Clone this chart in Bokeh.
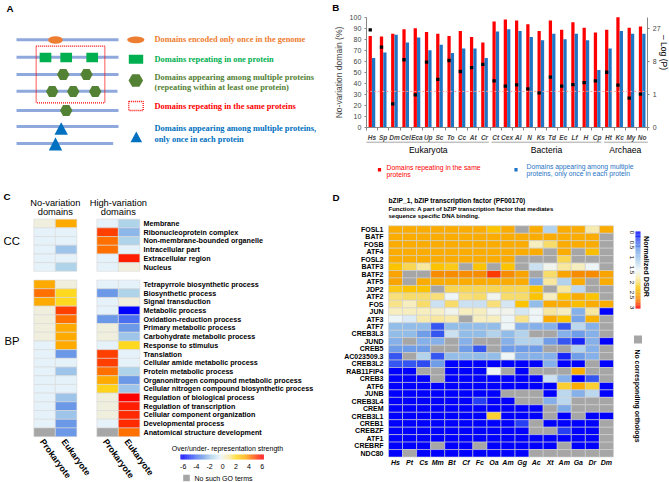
import numpy as np
from bokeh.plotting import figure
from bokeh.models import (Range1d, LinearAxis, FixedTicker,
                          LinearColorMapper, ColumnDataSource)
from bokeh.layouts import column, row
from bokeh.core.properties import value
from bokeh.embed import file_html
from bokeh.resources import INLINE

NaN = float("nan")
N = None

# ===================== Panel B data =====================
species = ["Hs", "Sp", "Dm", "Cel", "Eca", "Up", "Sc", "To", "Cc", "At", "Cr",
           "Ct", "Cex", "Al", "N", "Ks", "Td", "Ec", "Lf", "H", "Cp",
           "Ht", "Kc", "My", "No"]
kingdoms = ["Eukaryota"] * 11 + ["Bacteria"] * 10 + ["Archaea"] * 4
pct_same_proteins = [83, 82.5, 85, 89, 90, 86.5, 85, 83, 87.5, 82, 77,
                     96, 98, 97, 93.5, 87.5, 97, 88.5, 95.5, 90.5, 86,
                     88.5, 100, 90.5, 91.5]
pct_once_each = [63, 68, 84, 77, 81.5, 70, 75, 67.5, 71.5, 71.5, 63,
                 87, 89, 87.5, 82, 79, 85, 80, 85, 79, 52,
                 71.5, 87.5, 85, 85]
neg_log_p = [26.2, 14.6, 0.36, 8.7, 0.96, 7.8, 3.1, 8.4, 4.9, 6.0, 7.0,
             2.8, 1.96, 2.16, 1.6, 1.15, 3.55, 1.96, 2.2, 2.5, 2.8,
             4.7, 2.1, 0.69, 1.02]
p_cutoff = 0.05
pct_ticks = list(range(0, 101, 10))
neglogp_ticks = [0, 1, 8, 27]

# ===================== Panel C data =====================
cc_terms = ["Membrane", "Ribonucleoprotein complex", "Non-membrane-bounded organelle",
            "Intracellular part", "Extracellular region", "Nucleus"]
bp_terms = ["Tetrapyrrole biosynthetic process", "Biosynthetic process", "Signal transduction",
            "Metabolic process", "Oxidation-reduction process", "Primary metabolic process",
            "Carbohydrate metabolic process", "Response to stimulus", "Translation",
            "Cellular amide metabolic process", "Protein metabolic process",
            "Organonitrogen compound metabolic process",
            "Cellular nitrogen compound biosynthetic process",
            "Regulation of biological process", "Regulation of transcription",
            "Cellular component organization", "Developmental process",
            "Anatomical structure development"]
cc_novar_prok = [0.0, -0.4, -0.4, -0.4, -0.4, -0.4]
cc_novar_euk = [3.5, -0.4, -0.4, -2.0, -0.4, -1.6]
cc_high_prok = [-0.4, 5.0, 4.3, 4.3, -0.4, -0.4]
cc_high_euk = [-1.6, -2.3, -1.6, -0.4, 5.5, 0.0]
bp_novar_prok = [3.5, 4.3, 3.5, 0, 0, 0, 0, -0.4, -0.4, -0.4, -0.4, -0.4, -0.4,
                 -0.4, -0.4, -0.4, -0.4, NaN]
bp_novar_euk = [0, 2.0, 2.0, 5.0, 4.3, 3.5, 3.5, 3.5, -3.0, -0.4, -2.0, -0.4, -0.4,
                -2.0, -3.0, -2.0, -3.0, -3.0]
bp_high_prok = [-0.4, -3.0, -0.4, -0.4, -3.0, 0, 0, -0.4, 5.0, 5.0, 4.3, 3.5, 2.2,
                0, 0, 0, -0.4, NaN]
bp_high_euk = [-0.4, -1.6, 0, -6.0, -4.0, -3.0, -2.0, 2.0, -0.4, -0.4, -1.6, -3.0, -2.0,
               6.0, 5.5, 5.3, 5.3, 4.3]
c_col_names = ["Prokaryote", "Eukaryote", "Prokaryote", "Eukaryote"]
c_group_names = [["No-variation", "domains"], ["High-variation", "domains"]]
c_bar_ticks = [-6, -4, -2, 0, 2, 4, 6]

# ===================== Panel D data =====================
d_genes = ["FOSL1", "BATF", "FOSB", "ATF4", "FOSL2", "BATF3", "BATF2", "ATF5", "JDP2",
           "ATF2", "FOS", "JUN", "ATF3", "ATF7", "CREB3L3", "JUND", "CREB5", "AC023509.3",
           "CREB3L2", "RAB11FIP4", "CREB3", "ATF6", "JUNB", "CREB3L4", "CREM", "CREB3L1",
           "CREB1", "CREBZF", "ATF1", "CREBRF", "NDC80"]
d_species = ["Hs", "Pt", "Cs", "Mm", "Bt", "Cf", "Fc", "Oa", "Am", "Gg", "Ac", "Xt",
             "Am", "Ga", "Dr", "Dm"]
dsdr = [
    [2.4, 2.4, 2.4, 2.4, 2.4, 2.4, 2.4, 2.2, 2.4, N, 2.4, 1.15, 2.4, 2.4, 1.8, 2.4],
    [2.4, 2.4, 2.4, 2.4, 2.4, 2.4, 2.4, 2.4, 2.4, 2.4, 2.4, 2.4, 2.4, 2.4, 2.4, N],
    [2.4, 2.4, 2.4, 2.4, 2.4, 2.4, 2.4, 2.4, 2.4, 2.4, 1.75, 2.0, 2.4, 2.4, 2.4, N],
    [2.4, 2.4, 2.4, 2.4, 2.4, 2.4, 2.4, 2.4, 2.4, 2.4, 2.4, N, 2.4, N, 2.25, N],
    [2.4, 2.4, 2.4, 2.4, 2.4, 2.4, 2.4, 2.4, 2.4, N, N, N, 2.05, N, N, N],
    [2.2, 2.05, 1.85, 2.2, 2.15, N, 2.2, N, 2.2, N, 1.3, 1.55, 1.85, 1.75, 1.5, N],
    [2.45, N, N, 2.6, 2.6, 2.6, 2.6, 2.85, 2.6, 2.45, N, 2.0, 2.45, 2.6, 2.6, 2.45],
    [2.45, N, 2.4, 2.4, 2.4, 2.4, 2.4, 2.4, 2.4, 2.4, 0.8, 1.85, 1.15, 2.4, N, 2.4],
    [2.15, 2.2, 2.2, N, 2.05, 2.05, 2.05, 2.05, 2.05, 2.05, 2.2, N, 1.85, 1.2, N, N],
    [1.95, 2.0, 2.0, 1.95, 1.5, 1.95, 2.0, 1.55, 2.0, 2.0, 2.2, 1.75, 2.2, 2.4, 2.2, N],
    [1.9, 1.75, 2.0, 1.3, 2.0, 1.3, 1.3, 1.95, 1.35, 2.2, 0.95, 2.4, 2.4, 2.25, 2.4, 2.4],
    [1.75, 1.75, 1.75, 1.7, 1.55, 1.75, 1.75, 1.55, 1.55, 1.35, 1.5, 1.85, 1.75, 0.85, 1.85, 0.0],
    [1.5, 1.4, 1.8, 1.85, 1.8, N, 1.75, 1.75, 1.5, 1.9, 1.5, 2.4, 2.2, 0.75, 2.35, N],
    [0.95, 0.95, 0.95, 0.35, 0.95, 0.95, 0.95, 0.95, 1.5, 0.85, 0.85, 0.85, 0.35, 1.2, 0.85, N],
    [0.95, 0.95, 0.7, 0.35, 1.3, 0.95, 0.95, 1.15, 0.95, 1.15, N, N, 0.85, 0.7, 0.85, N],
    [0.85, N, 0.85, 0.85, N, 0.85, N, N, 0.85, 1.15, 1.15, 0.7, 0.35, 0.15, 0.85, 0.0],
    [0.7, 0.7, 0.7, N, N, 0.7, 0.35, N, 0.7, 0.7, 0.7, N, N, 1.15, 0.85, N],
    [0.35, N, 1.15, 0.35, 0.95, 0.95, 0.95, 0.95, 1.5, 0.85, 0.85, 0.85, 0.15, 0.7, 0.85, N],
    [0.35, 0.35, 0.3, 0.7, 0, 0, 0, 0, 0, 0, 0, 0.85, 0, 0, N, 0],
    [0, 0, N, N, 0, 0, 0, 1.5, N, 0, N, N, N, 2.4, N, N],
    [0, 0, 0, N, 0, 0, 0, 0, 0, 0, 0, 1.3, 0.85, 0, 0.35, N],
    [0, 0, 0, 0, 0, 0, 0, 0, 0, 0, 0, 0, 2.1, 2.4, 2.1, 0],
    [0, 0, 0, 0, 0, 0, 0, 0, N, N, N, 0, 1.2, 0.85, 1.2, 0],
    [0, 0, 0, 0, 0, 0, 0.25, 0, 0, N, N, 0.85, 1.2, N, N, N],
    [0, 0, 0, 0, 0, 0, 0, 0, 0, 0, 0, N, 0.8, N, N, N],
    [0, 0, 0, 0, 0, 0, 0, 2.1, 0, 0, 0, N, 0, N, 0, 0],
    [0, 0, 0, 0, 0, 0, 0, 0, 0, 0.25, N, 0, 0, 0, 0, N],
    [0, 0, 0, 0, 0, 0, 0, 0, 0, 0, N, N, 0.25, 0, 0, N],
    [0, 0, 0, 0, 0, 0, 0, 0, 0, 0, 0, 0, 0, 0, 0, N],
    [0, 0, 0, N, 0, 0, N, 0, 0, 0, 0, 0, N, 0, 0, N],
    [0, N, 0, 0, 0, 0, 0, 0, 0, 0, N, N, N, N, N, N],
]
d_bar_ticks = [0, 0.5, 1, 1.5, 2, 2.5, 3]

# ===================== helpers =====================
SANS = "Liberation Sans"
SERIF = "Liberation Serif"
GRAY = "#a6a6a6"


def ramp(stops, n=256):
    vals = [s for s, _ in stops]
    rgbs = [tuple(int(c[i:i + 2], 16) for i in (1, 3, 5)) for _, c in stops]
    out = []
    for t in np.linspace(vals[0], vals[-1], n):
        k = len(vals) - 2
        for i in range(len(vals) - 1):
            if vals[i] <= t < vals[i + 1]:
                k = i
                break
        f = (t - vals[k]) / (vals[k + 1] - vals[k])
        rgb = [int(round(a + (b - a) * f)) for a, b in zip(rgbs[k], rgbs[k + 1])]
        out.append("#%02x%02x%02x" % tuple(rgb))
    return out


mapC = LinearColorMapper(palette=ramp([
    (-6, "#0000ff"), (-4, "#4a70f0"), (-3, "#6a98e8"), (-2, "#9ec4ea"), (-1.6, "#b0d4e8"),
    (-0.4, "#e6f2fa"), (0, "#f0efe0"), (1, "#f8e8a0"), (2, "#ffd820"), (3.5, "#ffaa00"),
    (4.3, "#ff7000"), (5, "#ff4000"), (6, "#ff0000")]), low=-6, high=6, nan_color=GRAY)
mapD = LinearColorMapper(palette=ramp([
    (0.0, "#0000ff"), (0.3, "#2f4df2"), (0.65, "#6a98e8"), (0.95, "#93bde9"), (1.25, "#c3ddef"),
    (1.5, "#eef5f8"), (1.75, "#f7eec0"), (2.0, "#f8dc6a"), (2.2, "#fcc400"), (2.45, "#f9a602"),
    (2.7, "#f77a00"), (3.0, "#ff0000")]), low=0, high=3, nan_color=GRAY)


def txt(p, x, y, text, size, color="black", align="left", baseline="middle",
        style="normal", angle=0.0, font=SANS, **kw):
    p.text(x=x, y=y, text=text, text_font=value(font), text_font_size=value(size),
           text_color=color, text_align=align, text_baseline=baseline,
           text_font_style=value(style), angle=angle, **kw)


def panel(w, h, xr, yr, axes=False):
    kw = {} if axes else dict(x_axis_type=None, y_axis_type=None)
    p = figure(width=w, height=h, x_range=Range1d(*xr), y_range=Range1d(*yr),
               output_backend="svg", toolbar_location=None, min_border=0, **kw)
    p.outline_line_color = None
    return p


WL, WR = 330, 339
HT, HB = 190, 292

# ===================== Panel A (schematic) =====================
pA = panel(WL, HT, (0, 330), (190, 0))
txt(pA, [6], [2.5], ["A"], "9.8px", baseline="top", style="bold")
line_y = [39.3, 56.7, 74, 90.7, 110, 126, 143]
line_end = [118, 118, 118, 117, 118, 118, 112.7]
pA.segment(x0=[16] * 7, y0=line_y, x1=line_end, y1=line_y, line_color="#8fa9dc", line_width=3)
pA.rect(x=[70], y=[74], width=[68.6], height=[56.6], fill_color=None, line_color="#ff0000",
        line_dash="1 1", line_width=1.3)
pA.ellipse(x=[55, 135.3], y=[39.5, 39.3], width=[14.7, 17.3], height=[7.7, 6.7],
           fill_color="#ed7d31", line_color=None)
pA.rect(x=[45, 65.7, 91.7, 135.5], y=[57, 57, 57, 58.8], width=[11.7, 11.7, 11.7, 14.4],
        height=[9.3, 9.3, 9.3, 9], fill_color="#00b050", line_color=None)
pA.scatter(x=[62.7, 86, 51.7, 72.7, 94.7, 65.7], y=[74, 74, 91, 91, 91, 110], marker="hex",
           size=12.5, fill_color="#548235", line_color=None)
pA.scatter(x=[135.3], y=[80], marker="hex", size=14.5, fill_color="#548235", line_color=None)
pA.patches(xs=[[54, 60.7, 67.4], [48.3, 55, 61.7], [130, 135.8, 141.6]],
           ys=[[134.3, 121.7, 134.3], [150, 136.7, 150], [141.7, 131, 141.7]],
           fill_color="#0070c0", line_color=None)
pA.rect(x=[135.5], y=[105.5], width=[14.4], height=[9], fill_color=None, line_color="#ff0000",
        line_dash="1 1", line_width=1.3)
a_texts = ["Domains encoded only once in the genome", "Domains repeating in one protein",
           "Domains appearing among multiple proteins", "(repeating within at least one protein)",
           "Domains repeating in the same proteins", "Domains appearing among multiple proteins,",
           "only once in each protein"]
a_ys = [39.3, 58.7, 76.7, 87, 106, 128.3, 139.3]
a_cols = ["#ed7d31", "#00b050", "#548235", "#548235", "#ff0000", "#0070c0", "#0070c0"]
txt(pA, [154] * 7, a_ys, a_texts, "8.4px", color=a_cols, style="bold", font=SERIF)

# ===================== Panel B (bars) =====================
B_L, B_R, B_T, B_B = 365.8, 647.3, 16.7, 126.7
ncat = len(species)
cat_w = (B_R - B_L) / ncat
pct_px = (B_B - B_T) / 100.0
cube_px = (B_B - 28.3) / 3.0


def bx(px):
    return (px - B_L) / cat_w - 0.5


def by(py):
    return (B_B - py) / pct_px


def bc(py):
    return (B_B - py) / cube_px


pB = panel(WR, HT, (bx(330), bx(669)), (by(190), by(0)), axes=True)
pB.xgrid.visible = False
pB.ygrid.visible = False
pB.extra_y_ranges = {"nlp": Range1d(bc(190), bc(0))}

idx = np.arange(ncat)
pB.vbar(x=idx - 0.15, top=pct_same_proteins, width=0.29, fill_color="#ff0000", line_color=None)
pB.vbar(x=idx + 0.15, top=pct_once_each, width=0.29, fill_color="#1f74c4", line_color=None)
cut = float(np.cbrt(-np.log10(p_cutoff)))
pB.segment(x0=[-0.5], x1=[ncat - 0.5], y0=[cut], y1=[cut], y_range_name="nlp",
           line_color="#ff9a9a", line_dash="2 2", line_width=1)
pB.scatter(x=idx - 0.15, y=np.cbrt(neg_log_p), y_range_name="nlp", marker="square",
           size=3.3, fill_color="black", line_color=None)

xa = pB.xaxis[0]
xa.fixed_location = 0
xa.bounds = (-0.5, ncat - 0.5)
xa.ticker = FixedTicker(ticks=list(range(ncat)), minor_ticks=[i - 0.5 for i in range(ncat + 1)])
xa.major_label_overrides = {i: s for i, s in enumerate(species)}
xa.major_tick_line_color = None
xa.major_tick_out = 0
xa.major_tick_in = 0
xa.minor_tick_line_color = "#868686"
xa.minor_tick_out = 3
xa.minor_tick_in = 0
xa.axis_line_color = "#868686"
xa.major_label_text_font = SANS
xa.major_label_text_font_size = "6.5px"
xa.major_label_text_font_style = "bold italic"
xa.major_label_standoff = 4

yl = pB.yaxis[0]
yl.fixed_location = -0.5
yl.bounds = (0, 100)
yl.ticker = FixedTicker(ticks=pct_ticks)
yl.axis_label = "No-variation domain (%)"
yl.axis_label_text_font = SANS
yl.axis_label_text_font_size = "8.5px"
yl.axis_label_text_font_style = "normal"
yl.axis_label_standoff = 3
yr = LinearAxis(y_range_name="nlp", fixed_location=ncat - 0.5,
                ticker=FixedTicker(ticks=[float(np.cbrt(v)) for v in neglogp_ticks]),
                major_label_overrides={int(round(np.cbrt(v))): str(v) for v in neglogp_ticks})
pB.add_layout(yr, "right")
for ax in (yl, yr):
    ax.axis_line_color = "#868686"
    ax.major_tick_line_color = "#868686"
    ax.major_tick_out = 2
    ax.major_tick_in = 0
    ax.minor_tick_line_color = None
    ax.major_label_text_font = SANS
    ax.major_label_text_font_size = "7px"
    ax.major_label_standoff = 3
yr.bounds = (0, float(bc(B_T)))

txt(pB, [bx(331.7)], [by(1)], ["B"], "9.8px", baseline="top", style="bold")
txt(pB, [bx(663.5)], [by(52)], ["\u2013 Log (P)"], "8.5px", align="center", angle=-np.pi / 2)

groups = []
for i, k in enumerate(kingdoms):
    if not groups or groups[-1][0] != k:
        groups.append([k, i, i])
    else:
        groups[-1][2] = i
gx0, gx1, gxc, gnames = [], [], [], []
for gi, (k, i0, i1) in enumerate(groups):
    gx0.append(i0 - 0.5 + (0.0 if gi == 0 else 0.12))
    gx1.append(i1 + 0.5 - (0.0 if gi == len(groups) - 1 else 0.12))
    gxc.append((i0 + i1) / 2.0)
    gnames.append(k)
pB.segment(x0=gx0, x1=gx1, y0=[by(141.7)] * len(gx0), y1=[by(141.7)] * len(gx0),
           line_color="#a6a6a6", line_width=1)
txt(pB, gxc, [by(149.3)] * len(gxc), gnames, "8.6px", align="center")

pB.rect(x=[bx(379), bx(515.5)], y=[by(169.3), by(169.2)], width=[3.2 / cat_w] * 2,
        height=[3.6 / pct_px] * 2, fill_color=["#ff0000", "#1f74c4"], line_color=None)
txt(pB, [bx(386)] * 2, [by(166.7), by(174)], ["Domains repeating in the same", "proteins"],
    "6.8px", color="#ff0000")
txt(pB, [bx(526)] * 2, [by(165.7), by(172.7)],
    ["Domains appearing among multiple", "proteins, only once in each protein"],
    "6.8px", color="#1f74c4")

# ===================== Panel C (GO heatmap) =====================
C_X0, C_W, C_Y0, C_H = 44.1, 21.5, 223.0, 8.7


def c_x(px):
    return (px - C_X0) / C_W


def c_y(py):
    return (py - C_Y0) / C_H


pC = panel(WL, HB, (c_x(0), c_x(330)), (c_y(482), c_y(190)))
group_gap = 0.93
col_x = [0.0, 1.0, 2.0 + group_gap, 3.0 + group_gap]
cc_rows = list(range(len(cc_terms)))
bp_rows = [len(cc_terms) + 1 + k for k in range(len(bp_terms))]
c_cols = [cc_novar_prok + bp_novar_prok, cc_novar_euk + bp_novar_euk,
          cc_high_prok + bp_high_prok, cc_high_euk + bp_high_euk]
cx, cy, cv = [], [], []
for j, vals in enumerate(c_cols):
    for r, v in zip(cc_rows + bp_rows, vals):
        cx.append(col_x[j])
        cy.append(r)
        cv.append(v)
pC.rect(x="x", y="y", width=1, height=1, source=ColumnDataSource(dict(x=cx, y=cy, v=cv)),
        fill_color={"field": "v", "transform": mapC}, line_color="#d9d9d9", line_width=0.6)
label_x = col_x[-1] + 0.5 + 0.17
txt(pC, [label_x] * len(cc_terms), cc_rows, cc_terms, "7.2px", style="bold")
txt(pC, [label_x] * len(bp_terms), bp_rows, bp_terms, "7.2px", style="bold")
txt(pC, [c_x(3)], [c_y(190.5)], ["C"], "9.8px", baseline="top", style="bold")
txt(pC, [c_x(3), c_x(4)], [c_y(240), c_y(340.3)], ["CC", "BP"], "11.3px")
for g, names in enumerate(c_group_names):
    gx = (col_x[2 * g] + col_x[2 * g + 1]) / 2.0
    txt(pC, [gx, gx], [c_y(202.3), c_y(211.8)], names, "9.3px", align="center")
txt(pC, [x - 0.12 for x in col_x], [c_y(439.5)] * 4, c_col_names, "8.8px", style="bold",
    angle=-np.deg2rad(54))
# colour bar
cb_px = np.linspace(180, 263.3, 121)
cb_mid = (cb_px[:-1] + cb_px[1:]) / 2.0
cb_val = -6 + (cb_mid - 182.7) / 6.58
pC.rect(x="x", y="y", width=(cb_px[1] - cb_px[0]) / C_W * 1.05, height=5 / C_H,
        source=ColumnDataSource(dict(x=c_x(cb_mid), y=[c_y(456.5)] * len(cb_mid), v=cb_val)),
        fill_color={"field": "v", "transform": mapC}, line_color=None)
txt(pC, [c_x(227)], [c_y(448)], ["Over/under- representation strength"], "7px", align="center")
txt(pC, [c_x(182.7 + (t + 6) * 6.58) for t in c_bar_ticks], [c_y(466)] * len(c_bar_ticks),
    [str(t) for t in c_bar_ticks], "7px", align="center")
pC.rect(x=[c_x(186)], y=[c_y(477.5)], width=[6.6 / C_W], height=[6.4 / C_H],
        fill_color=GRAY, line_color=None)
txt(pC, [c_x(194)], [c_y(477.5)], ["No such GO terms"], "7px")

# ===================== Panel D (DSDR heatmap) =====================
D_X0, D_W, D_Y0, D_H = 388.0, 14.06, 229.0, 7.46


def d_x(px):
    return (px - D_X0) / D_W - 0.5


def d_y(py):
    return (py - D_Y0) / D_H


pD = panel(WR, HB, (d_x(330), d_x(669)), (d_y(482), d_y(190)))
dx_, dy_, dv_ = [], [], []
for i, rowv in enumerate(dsdr):
    for j, v in enumerate(rowv):
        dx_.append(j)
        dy_.append(i)
        dv_.append(NaN if v is None else v)
pD.rect(x="x", y="y", width=1, height=1, source=ColumnDataSource(dict(x=dx_, y=dy_, v=dv_)),
        fill_color={"field": "v", "transform": mapD}, line_color="#d0d0d0", line_width=0.6)
nrow, ncol = len(d_genes), len(d_species)
txt(pD, [-0.5 - 5 / D_W] * nrow, list(range(nrow)), d_genes, "7px", align="right", style="bold")
txt(pD, list(range(ncol)), [d_y(461.7)] * ncol, d_species, "7px", align="center",
    style="bold italic")
txt(pD, [d_x(332)], [d_y(191)], ["D"], "9.8px", baseline="top", style="bold")
txt(pD, [d_x(388)], [d_y(200)], ["bZIP_1, bZIP transcription factor (PF00170)"], "6.7px",
    style="bold")
txt(pD, [d_x(388)] * 2, [d_y(208), d_y(215)],
    ["Function: A part of bZIP transcription factor that mediates",
     "sequence specific DNA binding."], "6px", style="bold")
# colour bar
cbd_py = np.linspace(231, 308, 101)
cbd_mid = (cbd_py[:-1] + cbd_py[1:]) / 2.0
cbd_val = (cbd_mid - 231) / (308 - 231) * 3.0
pD.rect(x="x", y="y", width=5 / D_W, height=(cbd_py[1] - cbd_py[0]) / D_H * 1.05,
        source=ColumnDataSource(dict(x=[d_x(637.5)] * len(cbd_mid), y=d_y(cbd_mid), v=cbd_val)),
        fill_color={"field": "v", "transform": mapD}, line_color=None)
txt(pD, [d_x(631)] * len(d_bar_ticks), [d_y(232 + t / 3.0 * 75) for t in d_bar_ticks],
    [("%g" % t) for t in d_bar_ticks], "6.2px", align="center", angle=-np.pi / 2)
txt(pD, [d_x(646)], [d_y(266)], ["Normalized DSDR"], "7.2px", align="center", style="bold",
    angle=-np.pi / 2)
pD.rect(x=[d_x(637.5)], y=[d_y(339)], width=[8 / D_W], height=[8 / D_H], fill_color=GRAY,
        line_color=None)
txt(pD, [d_x(636.5)], [d_y(395.5)], ["No corresponding orthologs"], "6.9px", align="center",
    style="bold", angle=-np.pi / 2)

layout = column(row(pA, pB), row(pC, pD))
open("out.html", "w").write(file_html(layout, INLINE))
